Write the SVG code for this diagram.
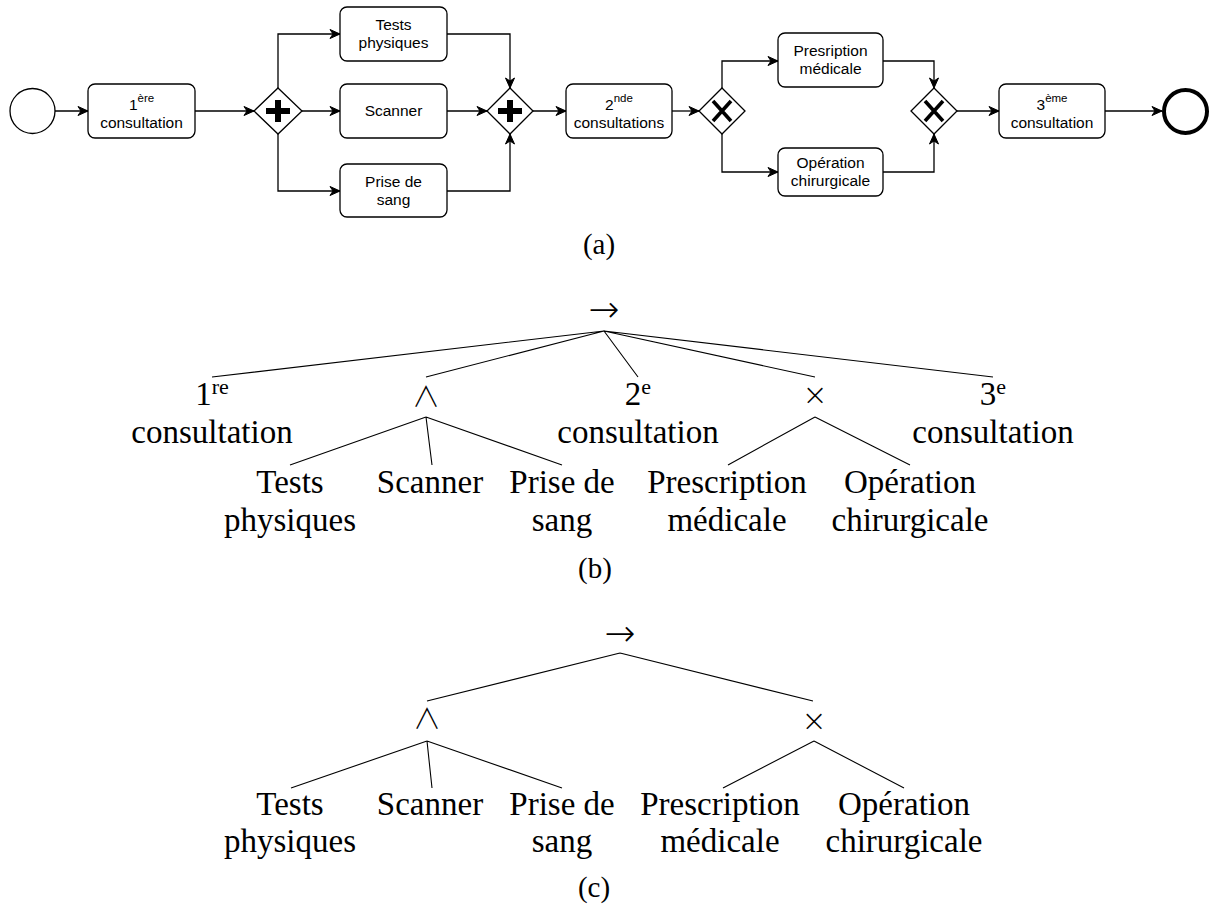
<svg xmlns="http://www.w3.org/2000/svg" width="1213" height="908" viewBox="0 0 1213 908">
<defs>
<marker id="arr" markerUnits="userSpaceOnUse" markerWidth="12" markerHeight="12" viewBox="0 0 12 12" refX="11" refY="6" orient="auto">
<path d="M1,1.5 L11,6 L1,10.5 L4,6 Z" fill="#000" stroke="#000" stroke-width="1"/>
</marker>
<style>
.box{fill:#fff;stroke:#000;stroke-width:1.3}
.flow{fill:none;stroke:#000;stroke-width:1.3;marker-end:url(#arr)}
.lbl{font-family:"Liberation Sans",Arial,sans-serif;font-size:15.5px;text-anchor:middle;fill:#000}
.sup{font-size:11.5px}
.edge{stroke:#000;stroke-width:1.1;fill:none}
.tx{font-family:"Liberation Serif","Times New Roman",serif;font-size:33px;text-anchor:middle;fill:#000}
.sym{font-family:"DejaVu Sans ExtraLight","DejaVu Sans",sans-serif;font-weight:200;text-anchor:middle;fill:#000}
.arrow{font-size:37px}
.wedge{font-family:"Noto Sans CJK JP","Noto Sans CJK SC","DejaVu Sans",sans-serif;font-weight:300;font-size:28px}
.times{font-size:30px}
.tsup{font-size:22px}
.cap{font-family:"Liberation Serif","Times New Roman",serif;font-size:29px;text-anchor:middle;fill:#000}
.xg{stroke:#000;stroke-width:3.6;fill:none}
</style>
</defs>
<rect width="1213" height="908" fill="#fff"/>

<!-- (a) BPMN -->
<g id="a-connectors">
<path class="flow" d="M55,111 H88"/>
<path class="flow" d="M195,111 H254"/>
<path class="flow" d="M278,88 V34 H340"/>
<path class="flow" d="M302,111 H340"/>
<path class="flow" d="M278,134 V191 H340"/>
<path class="flow" d="M447,34 H510 V88"/>
<path class="flow" d="M447,111 H487"/>
<path class="flow" d="M447,191 H510 V134"/>
<path class="flow" d="M533,111 H566"/>
<path class="flow" d="M672,111 H699"/>
<path class="flow" d="M722,88 V61 H778"/>
<path class="flow" d="M722,134 V172 H778"/>
<path class="flow" d="M883,61 H934 V88"/>
<path class="flow" d="M883,172 H934 V134"/>
<path class="flow" d="M957,111 H999"/>
<path class="flow" d="M1105,111 H1162"/>
</g>
<g id="start"><circle class="box" cx="32.5" cy="111" r="22.5"/></g>
<g id="c1">
<rect class="box" x="88" y="84" width="107" height="54" rx="7"/>
<text class="lbl" x="141.5" y="110">1<tspan class="sup" dy="-8">ère</tspan></text>
<text class="lbl" x="141.5" y="128">consultation</text>
</g>
<g id="and-split">
<polygon class="box" points="278,88 302,111 278,134 254,111"/>
<path d="M275,100 H281 V108 H290 V114 H281 V122 H275 V114 H266 V108 H275 Z" fill="#000"/>
</g>
<g id="tests">
<rect class="box" x="340" y="7" width="107" height="54" rx="7"/>
<text class="lbl" x="393.5" y="30">Tests</text>
<text class="lbl" x="393.5" y="48">physiques</text>
</g>
<g id="scanner">
<rect class="box" x="340" y="84" width="107" height="54" rx="7"/>
<text class="lbl" x="393.5" y="116">Scanner</text>
</g>
<g id="prise">
<rect class="box" x="340" y="164" width="107" height="53" rx="7"/>
<text class="lbl" x="393.5" y="187">Prise de</text>
<text class="lbl" x="393.5" y="205">sang</text>
</g>
<g id="and-join">
<polygon class="box" points="510,88 533,111 510,134 487,111"/>
<path d="M507,100 H513 V108 H522 V114 H513 V122 H507 V114 H498 V108 H507 Z" fill="#000"/>
</g>
<g id="c2">
<rect class="box" x="566" y="84" width="106" height="54" rx="7"/>
<text class="lbl" x="619" y="110">2<tspan class="sup" dy="-8">nde</tspan></text>
<text class="lbl" x="619" y="128">consultations</text>
</g>
<g id="xor-split">
<polygon class="box" points="722,88 745,111 722,134 699,111"/>
<path class="xg" d="M713,101 L731,121 M731,101 L713,121"/>
</g>
<g id="presc">
<rect class="box" x="778" y="33" width="105" height="54" rx="7"/>
<text class="lbl" x="830.5" y="56">Presription</text>
<text class="lbl" x="830.5" y="74">médicale</text>
</g>
<g id="oper">
<rect class="box" x="778" y="148" width="105" height="48" rx="7"/>
<text class="lbl" x="830.5" y="168">Opération</text>
<text class="lbl" x="830.5" y="186">chirurgicale</text>
</g>
<g id="xor-join">
<polygon class="box" points="934,88 957,111 934,134 911,111"/>
<path class="xg" d="M925,101 L943,121 M943,101 L925,121"/>
</g>
<g id="c3">
<rect class="box" x="999" y="84" width="106" height="54" rx="7"/>
<text class="lbl" x="1052" y="110">3<tspan class="sup" dy="-8">ème</tspan></text>
<text class="lbl" x="1052" y="128">consultation</text>
</g>
<g id="end"><circle cx="1185.5" cy="111.5" r="21.5" fill="#fff" stroke="#000" stroke-width="4"/></g>
<text class="cap" x="599" y="254">(a)</text>

<!-- (b) tree -->
<g id="b-connectors">
<path class="edge" d="M604,331 L212,377 M604,331 L426,377 M604,331 L638,377 M604,331 L815,377 M604,331 L993,377"/>
<path class="edge" d="M426,417 L290,465 M426,417 L432,465 M426,417 L562,465"/>
<path class="edge" d="M815,417 L728,465 M815,417 L910,465"/>
</g>
<g id="b-seq"><text class="sym arrow" x="604" y="322">→</text></g>
<g id="b-c1">
<text class="tx" x="212" y="405">1<tspan class="tsup" dy="-11">re</tspan></text>
<text class="tx" x="212" y="443">consultation</text>
</g>
<g id="b-and"><text class="sym wedge" x="426" y="407">∧</text></g>
<g id="b-c2">
<text class="tx" x="638" y="405">2<tspan class="tsup" dy="-11">e</tspan></text>
<text class="tx" x="638" y="443">consultation</text>
</g>
<g id="b-xor"><text class="sym times" x="815" y="405">×</text></g>
<g id="b-c3">
<text class="tx" x="993" y="405">3<tspan class="tsup" dy="-11">e</tspan></text>
<text class="tx" x="993" y="443">consultation</text>
</g>
<g id="b-tests"><text class="tx" x="290" y="493">Tests</text><text class="tx" x="290" y="531">physiques</text></g>
<g id="b-scanner"><text class="tx" x="430" y="493">Scanner</text></g>
<g id="b-prise"><text class="tx" x="562" y="493">Prise de</text><text class="tx" x="562" y="531">sang</text></g>
<g id="b-presc"><text class="tx" x="727" y="493">Prescription</text><text class="tx" x="727" y="531">médicale</text></g>
<g id="b-oper"><text class="tx" x="910" y="493">Opération</text><text class="tx" x="910" y="531">chirurgicale</text></g>
<text class="cap" x="595" y="578">(b)</text>

<!-- (c) tree -->
<g id="c-connectors">
<path class="edge" d="M620,653 L427,701 M620,653 L813,701"/>
<path class="edge" d="M427,741 L291,788 M427,741 L432,788 M427,741 L562,788"/>
<path class="edge" d="M814,741 L723,788 M814,741 L904,788"/>
</g>
<g id="c-seq"><text class="sym arrow" x="620" y="646">→</text></g>
<g id="c-and"><text class="sym wedge" x="427" y="729">∧</text></g>
<g id="c-xor"><text class="sym times" x="814" y="731">×</text></g>
<g id="c-tests"><text class="tx" x="290" y="815">Tests</text><text class="tx" x="290" y="852">physiques</text></g>
<g id="c-scanner"><text class="tx" x="430" y="815">Scanner</text></g>
<g id="c-prise"><text class="tx" x="562" y="815">Prise de</text><text class="tx" x="562" y="852">sang</text></g>
<g id="c-presc"><text class="tx" x="720" y="815">Prescription</text><text class="tx" x="720" y="852">médicale</text></g>
<g id="c-oper"><text class="tx" x="904" y="815">Opération</text><text class="tx" x="904" y="852">chirurgicale</text></g>
<text class="cap" x="594" y="897">(c)</text>
</svg>
